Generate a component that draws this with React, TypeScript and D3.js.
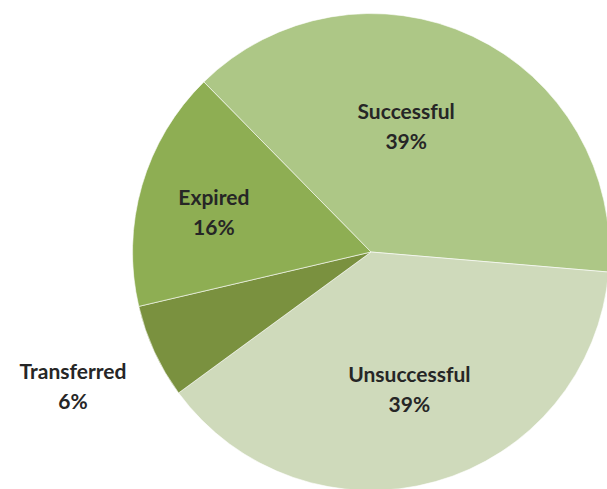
import React from "react";
import { pie, arc, PieArcDatum } from "d3";

// slice shares (percent), in clockwise order from the start angle
const categories = ["Successful", "Unsuccessful", "Transferred", "Expired"];
const shares = [38.7, 38.6, 6.4, 16.3];
const colors = ["#adc786", "#cfdabb", "#7a913f", "#8eae53"];

// label placement (fraction of radius, and angle nudge in degrees) - Excel "best fit"
const labelRadius = [0.55, 0.595, 1.37, 0.68];
const labelNudge = [-9.6, 0, 0.5, -1.9];

const width = 607;
const height = 489;
const cx = 371;
const cy = 252;
const radius = 238.5;
const startDeg = 315.5;

type Row = { name: string; value: number; color: string; i: number };

const App = () => {
  const rows: Row[] = categories.map((name, i) => ({ name, value: shares[i], color: colors[i], i }));
  const toRad = (d: number) => (d * Math.PI) / 180;

  const slices = pie<Row>()
    .value((d) => d.value)
    .sort(null)
    .startAngle(toRad(startDeg))
    .endAngle(toRad(startDeg + 360))(rows);

  const arcGen = arc<PieArcDatum<Row>>().innerRadius(0).outerRadius(radius);

  return (
    <div style={{ position: "fixed", left: 0, top: 0 }}>
      <svg width={width} height={height} style={{ display: "block", background: "#fff" }}>
        <g transform={`translate(${cx},${cy})`}>
          {slices.map((s) => (
            <path key={s.data.name} d={arcGen(s) || ""} fill={s.data.color} stroke="#ffffff" strokeWidth={0.6} />
          ))}
          {slices.map((s) => {
            const i = s.data.i;
            const mid = (s.startAngle + s.endAngle) / 2 + toRad(labelNudge[i]);
            const r = radius * labelRadius[i];
            const x = r * Math.sin(mid);
            const y = -r * Math.cos(mid);
            return (
              <text
                key={"l" + s.data.name}
                textAnchor="middle"
                fontFamily="Lato, 'Open Sans', sans-serif"
                fontWeight={700}
                fontSize={21}
                fill="#262626"
              >
                <tspan x={x} y={y - 7}>{s.data.name}</tspan>
                <tspan x={x} y={y + 23}>{Math.round(s.data.value)}%</tspan>
              </text>
            );
          })}
        </g>
      </svg>
    </div>
  );
};

export default App;
